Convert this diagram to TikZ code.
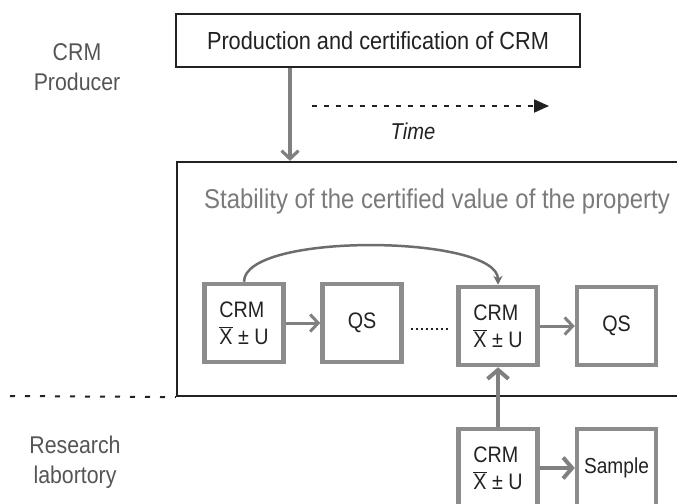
\documentclass[tikz,border=0pt]{standalone}
\usepackage{fontspec}
\setmainfont{Liberation Sans}[FakeStretch=0.88]
\usetikzlibrary{arrows.meta}

\definecolor{boxgray}{HTML}{8C8C8C}
\definecolor{arrowgray}{HTML}{808080}
\definecolor{labelgray}{HTML}{555555}
\definecolor{titlegray}{HTML}{7A7A7A}
\definecolor{textdark}{HTML}{222222}

\newcommand{\xbar}{$\overline{\mbox{X}}$}

\begin{document}
\begin{tikzpicture}[x=1bp, y=-1bp,
    unitbox/.style={draw=boxgray, line width=4.5bp, minimum width=79bp,
        minimum height=78bp, inner sep=0pt, align=left, text=textdark,
        font=\fontsize{22.5}{27}\selectfont},
    sidelabel/.style={align=center, text=labelgray,
        font=\fontsize{24.3}{30}\selectfont},
    flowarrow/.style={draw=arrowgray, line width=3bp,
        -{Straight Barb[length=8bp, width=17bp]}},
    thickarrow/.style={draw=arrowgray, line width=4bp,
        -{Straight Barb[length=9bp, width=21bp]}}]
    \useasboundingbox (0,0) rectangle (677,504);
    \clip (0,0) rectangle (677,504);

    % Producer side
    \node[draw=textdark, line width=2bp, minimum width=404bp, minimum height=53bp,
        font=\fontsize{24.8}{28}\selectfont, text=textdark] (prod) at (378,40.5)
        {Production and certification of CRM};
    \node[sidelabel] (producer) at (77,67) {CRM\\Producer};

    % Time axis
    \coordinate (tstart) at (312,106);
    \coordinate (tend) at (549,106);
    \draw[textdark, line width=2bp, dash pattern=on 5bp off 7bp,
        -{Triangle[length=15bp, width=13bp]}] (tstart) -- (tend);
    \node[font=\itshape\fontsize{23}{26}\selectfont, text=textdark] (time) at (413,131) {Time};

    % Stability frame
    \node[draw=textdark, line width=2.2bp, minimum width=523bp, minimum height=234bp,
        inner sep=0pt] (stab) at (438.5,279) {};
    \node[text=titlegray, font=\fontsize{27.3}{30}\selectfont] (stabtitle) at (437,201)
        {Stability of the certified value of the property};
    \coordinate (drop) at (290,0);
    \draw[flowarrow, line width=3.2bp] (prod.south -| drop) -- (stab.north -| drop);

    % Boxes inside the frame
    \node[unitbox] (crma) at (244,323) {CRM\\\xbar\ ± U};
    \node[unitbox] (qsa) at (362,323) {QS};
    \node[unitbox] (crmb) at (498,326) {CRM\\\xbar\ ± U};
    \node[unitbox] (qsb) at (616.5,326) {QS};
    \draw[flowarrow] (crma) -- (qsa);
    \draw[flowarrow] (crmb) -- (qsb);
    \draw[textdark, line width=2.5bp, dash pattern=on 2.5bp off 2.5bp,
        shorten <=7bp, shorten >=7bp] (qsa.east |- 0,329) -- (crmb.west |- 0,329);
    \draw[draw=arrowgray!85!black, line width=2.5bp, -{Stealth[length=9bp, width=9bp]}]
        (crma.north) .. controls +(0,-50) and +(0,-50) .. (crmb.north);

    % Laboratory side
    \draw[textdark, line width=2bp, dash pattern=on 5bp off 10bp] (10,396) -- (stab.south west);
    \node[sidelabel] (lab) at (75,462) {Research\\labortory};
    \node[unitbox] (crmc) at (498,468) {CRM\\\xbar\ ± U};
    \node[unitbox, font=\fontsize{21.8}{26}\selectfont] (sample) at (616.5,468) {Sample};
    \draw[thickarrow] (crmc) -- (crmb);
    \draw[thickarrow] (crmc) -- (sample);
\end{tikzpicture}
\end{document}
